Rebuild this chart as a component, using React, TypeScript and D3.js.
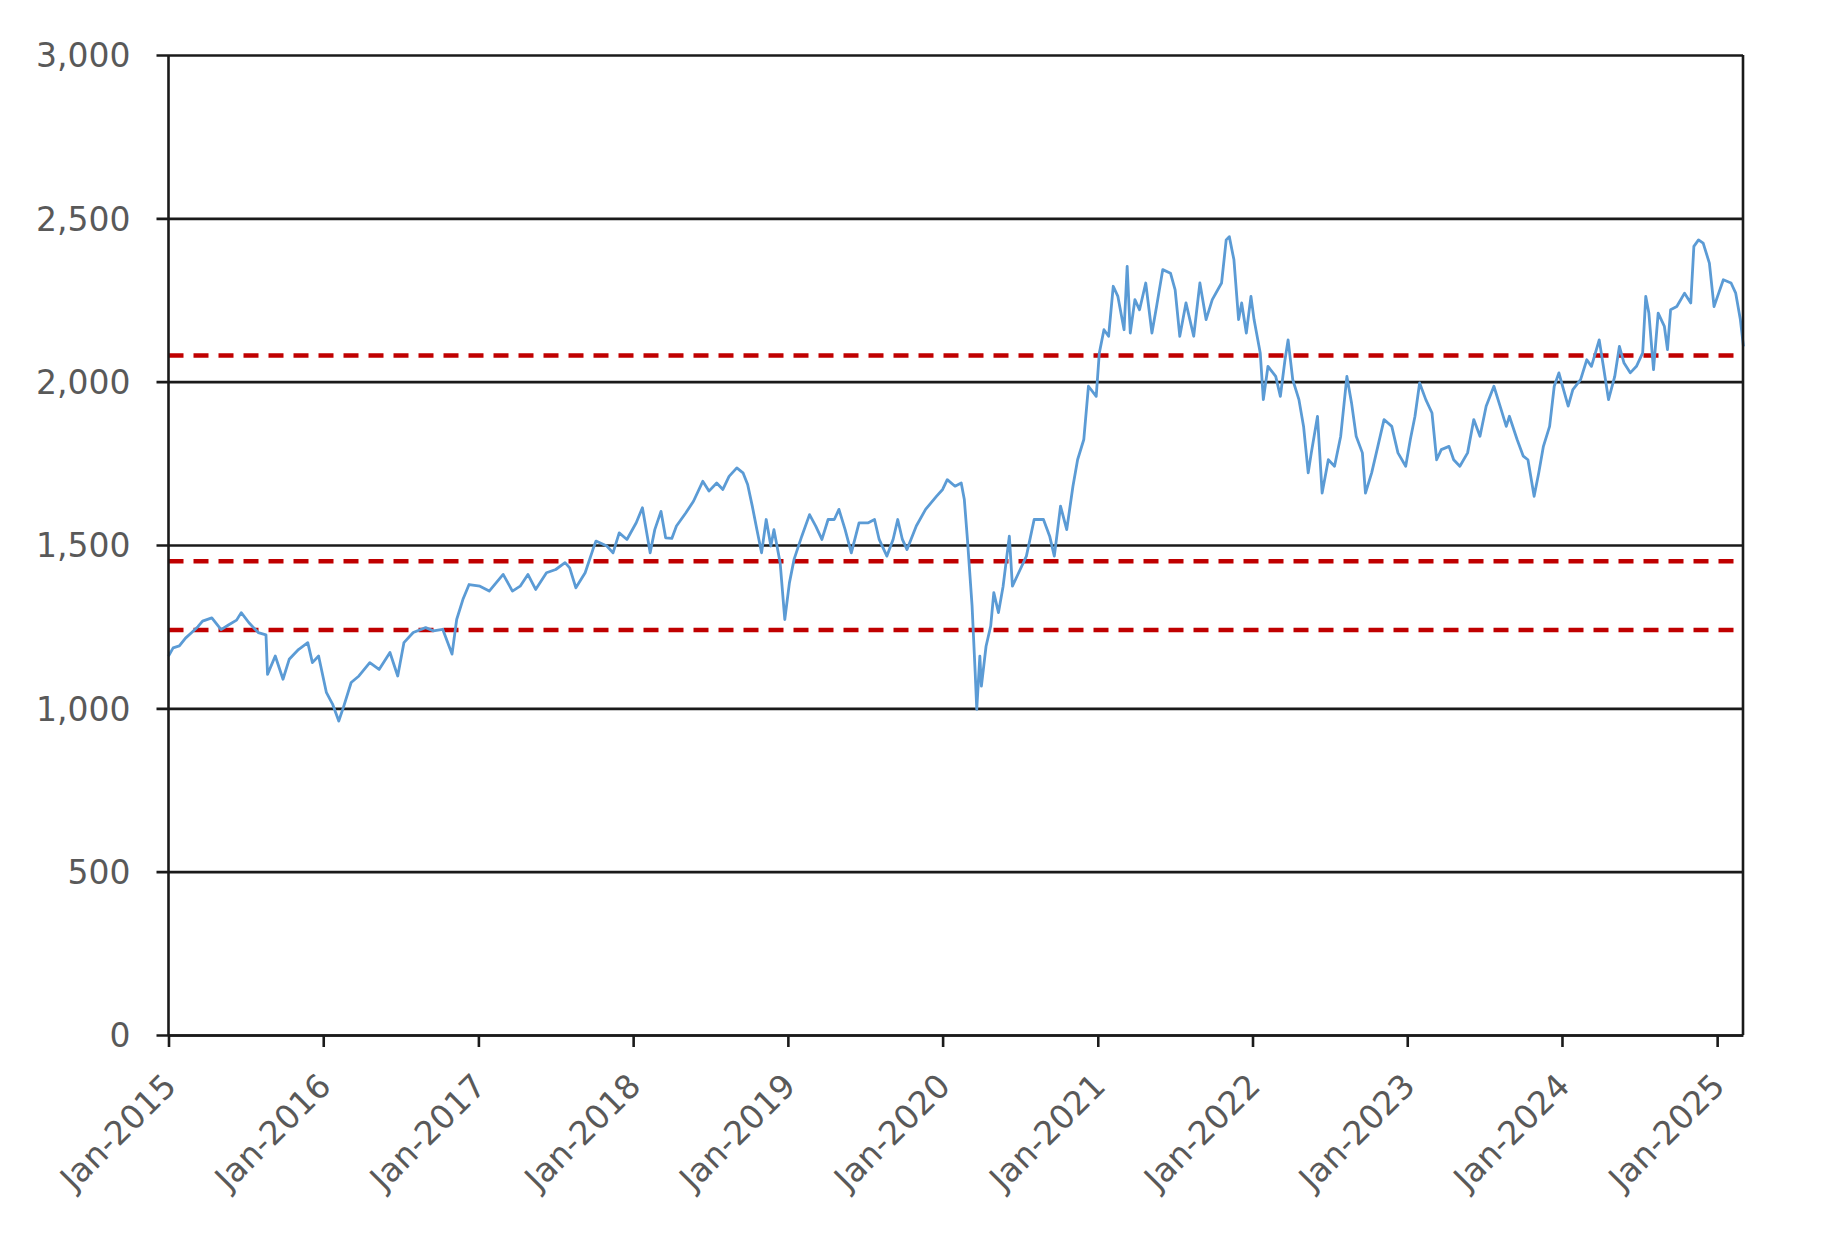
import { axisBottom, axisLeft, format, line, scaleLinear, scaleTime, select } from 'd3'
import { useEffect, useRef } from 'react'

// index level (decimal year -> value)
const obsYears = [
  2015.0, 2015.03, 2015.07, 2015.11, 2015.15, 2015.19, 2015.22, 2015.28, 2015.34, 2015.39, 2015.44, 2015.47,
  2015.52, 2015.58, 2015.63, 2015.64, 2015.69, 2015.74, 2015.78, 2015.84, 2015.9, 2015.93, 2015.97,
  2016.02, 2016.06, 2016.1, 2016.13, 2016.18, 2016.23, 2016.3, 2016.36, 2016.43, 2016.48, 2016.52, 2016.58,
  2016.66, 2016.71, 2016.77, 2016.83, 2016.86, 2016.9, 2016.94,
  2017.01, 2017.07, 2017.16, 2017.22, 2017.27, 2017.32, 2017.37, 2017.44, 2017.5, 2017.56, 2017.59, 2017.63,
  2017.69, 2017.74, 2017.76, 2017.83, 2017.87, 2017.91, 2017.96,
  2018.02, 2018.06, 2018.11, 2018.14, 2018.18, 2018.21, 2018.25, 2018.28, 2018.34, 2018.39, 2018.45, 2018.49,
  2018.54, 2018.58, 2018.62, 2018.67, 2018.71, 2018.74, 2018.77, 2018.8, 2018.83, 2018.86, 2018.89, 2018.91,
  2018.95, 2018.98,
  2019.01, 2019.04, 2019.09, 2019.14, 2019.18, 2019.22, 2019.26, 2019.3, 2019.33, 2019.37, 2019.41, 2019.46,
  2019.52, 2019.56, 2019.59, 2019.64, 2019.68, 2019.71, 2019.74, 2019.77, 2019.83, 2019.89, 2019.96,
  2020.0, 2020.03, 2020.08, 2020.12, 2020.14, 2020.16, 2020.19, 2020.21, 2020.22, 2020.24, 2020.25, 2020.28,
  2020.31, 2020.33, 2020.36, 2020.39, 2020.43, 2020.45, 2020.5, 2020.54, 2020.59, 2020.65, 2020.69, 2020.72,
  2020.76, 2020.8, 2020.84, 2020.87, 2020.91, 2020.94, 2020.99,
  2021.01, 2021.04, 2021.07, 2021.1, 2021.13, 2021.17, 2021.19, 2021.21, 2021.24, 2021.27, 2021.31, 2021.35,
  2021.38, 2021.42, 2021.47, 2021.5, 2021.53, 2021.57, 2021.62, 2021.66, 2021.7, 2021.74, 2021.8, 2021.83,
  2021.85, 2021.88, 2021.91, 2021.93, 2021.96, 2021.99,
  2022.01, 2022.05, 2022.07, 2022.1, 2022.15, 2022.18, 2022.21, 2022.23, 2022.26, 2022.3, 2022.33, 2022.36,
  2022.38, 2022.42, 2022.45, 2022.49, 2022.53, 2022.57, 2022.61, 2022.64, 2022.67, 2022.71, 2022.73, 2022.77,
  2022.81, 2022.85, 2022.9, 2022.94, 2022.99,
  2023.02, 2023.05, 2023.08, 2023.12, 2023.16, 2023.19, 2023.22, 2023.27, 2023.3, 2023.34, 2023.39, 2023.43,
  2023.47, 2023.51, 2023.56, 2023.6, 2023.64, 2023.66, 2023.71, 2023.75, 2023.78, 2023.82, 2023.85, 2023.88,
  2023.92, 2023.95, 2023.98,
  2024.01, 2024.04, 2024.07, 2024.12, 2024.16, 2024.19, 2024.24, 2024.27, 2024.3, 2024.34, 2024.37, 2024.4,
  2024.44, 2024.48, 2024.52, 2024.54, 2024.56, 2024.59, 2024.62, 2024.66, 2024.68, 2024.7, 2024.74, 2024.79,
  2024.83, 2024.85, 2024.88, 2024.91, 2024.95, 2024.98,
  2025.01, 2025.04, 2025.09, 2025.12, 2025.15, 2025.17,
]

const obsValues = [
  1160, 1185, 1191, 1215, 1232, 1250, 1267, 1277, 1241, 1256, 1270, 1293,
  1262, 1232, 1225, 1104, 1160, 1089, 1150, 1180, 1201, 1140, 1160,
  1049, 1013, 961, 1003, 1079, 1099, 1140, 1119, 1171, 1099, 1201, 1232,
  1247, 1237, 1242, 1166, 1272, 1333, 1379,
  1374, 1359, 1410, 1359, 1374, 1410, 1364, 1415, 1425, 1446, 1430, 1369,
  1415, 1486, 1512, 1497, 1476, 1537, 1517,
  1568, 1614, 1476, 1547, 1603, 1522, 1520, 1558, 1598, 1634, 1695, 1665,
  1690, 1670, 1710, 1736, 1721, 1685, 1619, 1547, 1476, 1578, 1497, 1547,
  1446, 1272,
  1384, 1456, 1527, 1593, 1558, 1517, 1578, 1578, 1609, 1547, 1476, 1568,
  1568, 1578, 1517, 1466, 1517, 1578, 1517, 1486, 1558, 1609, 1649,
  1670, 1700, 1680, 1690, 1639, 1517, 1313, 1109, 997, 1160, 1068, 1190,
  1252, 1354, 1293, 1374, 1527, 1374, 1425, 1466, 1578, 1578, 1527, 1466,
  1619, 1547, 1680, 1761, 1823, 1986, 1955,
  2088, 2159, 2139, 2292, 2261, 2159, 2353, 2149, 2251, 2220, 2302, 2149,
  2230, 2343, 2332, 2281, 2139, 2241, 2139, 2302, 2190, 2251, 2302, 2434,
  2444, 2373, 2190, 2241, 2149, 2261,
  2190, 2088, 1945, 2047, 2016, 1955, 2067, 2128, 2006, 1945, 1863, 1721,
  1782, 1894, 1659, 1761, 1741, 1833, 2016, 1935, 1833, 1782, 1659, 1721,
  1802, 1884, 1863, 1782, 1741,
  1823, 1894, 1996, 1945, 1904, 1761, 1792, 1802, 1761, 1741, 1782, 1884,
  1833, 1925, 1986, 1925, 1863, 1894, 1823, 1772, 1761, 1649, 1721, 1802,
  1863, 1986, 2027,
  1976, 1925, 1976, 2006, 2067, 2047, 2128, 2037, 1945, 2016, 2108, 2057,
  2027, 2047, 2088, 2261, 2210, 2037, 2210, 2169, 2098, 2220, 2230, 2271,
  2241, 2414, 2434, 2424, 2363, 2230,
  2271, 2312, 2302, 2271, 2190, 2108,
]

const yTickValues = [0, 500, 1000, 1500, 2000, 2500, 3000]
const xTickYears = [2015, 2016, 2017, 2018, 2019, 2020, 2021, 2022, 2023, 2024, 2025]
const refLevels = [2080, 1450, 1240]

const toDate = (y: number) => {
  const yr = Math.floor(y)
  const start = new Date(yr, 0, 1).getTime()
  const end = new Date(yr + 1, 0, 1).getTime()
  return new Date(start + (y - yr) * (end - start))
}

export default function App() {
  const ref = useRef<SVGSVGElement>(null)

  useEffect(() => {
    if (!ref.current) return
    const svg = select(ref.current)
    svg.selectAll('*').remove()

    const left = 168.5
    const right = 1743
    const top = 55
    const bottom = 1035
    const font = '"DejaVu Sans", Verdana, sans-serif'
    const textColor = '#595959'

    const x = scaleTime()
      .domain([new Date(2015, 0, 1), new Date(2025, 2, 3)])
      .range([left, right])
    const y = scaleLinear().domain([0, 3000]).range([bottom, top])

    // horizontal gridlines + left tick labels
    const yAxis = svg
      .append('g')
      .attr('transform', `translate(${left},0)`)
      .call(
        axisLeft(y)
          .tickValues(yTickValues)
          .tickSizeInner(-(right - left))
          .tickSizeOuter(0)
          .tickPadding(38)
          .tickFormat((d) => format(',')(d as number)),
      )
    yAxis.select('.domain').remove()
    yAxis.selectAll('.tick line').attr('x1', -12).attr('stroke', '#1a1a1a').attr('stroke-width', 2.6)
    yAxis
      .selectAll('.tick text')
      .attr('fill', textColor)
      .style('font-family', font)
      .style('font-size', '33px')
      .attr('dy', '0.36em')

    // reference levels
    svg
      .append('g')
      .selectAll('line')
      .data(refLevels)
      .join('line')
      .attr('x1', left)
      .attr('x2', right)
      .attr('y1', (d) => y(d))
      .attr('y2', (d) => y(d))
      .attr('stroke', '#c00000')
      .attr('stroke-width', 4.5)
      .attr('stroke-dasharray', '15 10')

    // index series
    const series = obsYears.map((t, i) => ({ date: toDate(t), value: obsValues[i] }))
    svg
      .append('path')
      .datum(series)
      .attr('fill', 'none')
      .attr('stroke', '#5b9bd5')
      .attr('stroke-width', 2.8)
      .attr('stroke-linejoin', 'round')
      .attr(
        'd',
        line<{ date: Date; value: number }>()
          .x((d) => x(d.date))
          .y((d) => y(d.value)),
      )

    // frame: left and right verticals
    svg
      .append('g')
      .selectAll('line')
      .data([left, right])
      .join('line')
      .attr('x1', (d) => d)
      .attr('x2', (d) => d)
      .attr('y1', top)
      .attr('y2', bottom)
      .attr('stroke', '#1a1a1a')
      .attr('stroke-width', 2.6)

    // bottom axis with rotated year labels
    const xAxis = svg
      .append('g')
      .attr('transform', `translate(0,${bottom})`)
      .call(
        axisBottom(x)
          .tickValues(xTickYears.map((yr) => new Date(yr, 0, 1)))
          .tickSizeInner(12)
          .tickSizeOuter(0)
          .tickFormat((d) => `Jan-${(d as Date).getFullYear()}`),
      )
    xAxis.select('.domain').attr('stroke', '#1a1a1a').attr('stroke-width', 2.6)
    xAxis.selectAll('.tick line').attr('stroke', '#1a1a1a').attr('stroke-width', 2.6)
    xAxis
      .selectAll('.tick text')
      .attr('fill', textColor)
      .style('font-family', font)
      .style('font-size', '33px')
      .attr('text-anchor', 'end')
      .attr('y', 0)
      .attr('dy', 0)
      .attr('transform', 'translate(9,53) rotate(-45)')
  }, [])

  return (
    <svg
      ref={ref}
      width={1830}
      height={1238}
      style={{ position: 'absolute', left: 0, top: 0, background: '#fff' }}
    />
  )
}
